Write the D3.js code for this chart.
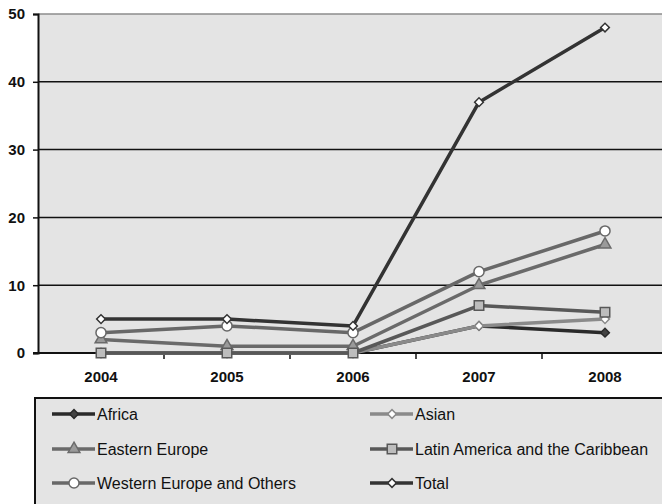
<!DOCTYPE html>
<html>
<head>
<meta charset="utf-8">
<script src="https://cdn.jsdelivr.net/npm/d3@7"></script>
<style>
  body { margin: 0; background: #fff; }
  text { font-family: "Liberation Sans", Arial, sans-serif; }
</style>
</head>
<body>
<svg width="662" height="504"></svg>
<script>
// data
let years = ["2004", "2005", "2006", "2007", "2008"];
let africa = [0, 0, 0, 4, 3];
let asian = [0, 0, 0, 4, 5];
let easternEurope = [2, 1, 1, 10, 16];
let latinAmerica = [0, 0, 0, 7, 6];
let westernEurope = [3, 4, 3, 12, 18];
let total = [5, 5, 4, 37, 48];
let yTicks = [0, 10, 20, 30, 40, 50];

let series = [
  {name: "Africa", values: africa, stroke: "#2a2a2a", shape: "diamond", fill: "#444"},
  {name: "Asian", values: asian, stroke: "#8a8a8a", shape: "diamond", fill: "#fff"},
  {name: "Eastern Europe", values: easternEurope, stroke: "#6a6a6a", shape: "triangle", fill: "#9a9a9a"},
  {name: "Latin America and the Caribbean", values: latinAmerica, stroke: "#585858", shape: "square", fill: "#bdbdbd"},
  {name: "Western Europe and Others", values: westernEurope, stroke: "#686868", shape: "circle", fill: "#fff"},
  {name: "Total", values: total, stroke: "#333", shape: "diamond", fill: "#fff"}
];

let margin = {top: 14, left: 38};
let svg = d3.select("svg");
let plotBottom = 353;

let x = d3.scaleBand().domain(years).range([margin.left, margin.left + 630]);
let y = d3.scaleLinear().domain([0, 50]).range([plotBottom, margin.top]);

// plot background
svg.append("rect")
  .attr("x", margin.left).attr("y", margin.top)
  .attr("width", 640).attr("height", plotBottom - margin.top)
  .attr("fill", "#e4e4e4");
svg.append("line")
  .attr("x1", margin.left).attr("x2", 662)
  .attr("y1", margin.top).attr("y2", margin.top)
  .attr("stroke", "#8c8c8c").attr("stroke-width", 1.5);

// gridlines
svg.append("g").selectAll("line")
  .data(yTicks.filter(d => d > 0 && d < 50))
  .enter().append("line")
  .attr("x1", margin.left).attr("x2", 662)
  .attr("y1", d => y(d)).attr("y2", d => y(d))
  .attr("stroke", "#111").attr("stroke-width", 1.5);

// y axis
let yAxis = svg.append("g")
  .attr("transform", "translate(" + margin.left + ",0)")
  .call(d3.axisLeft(y).tickValues(yTicks).tickSize(5).tickPadding(8));
yAxis.select(".domain").attr("stroke", "#111").attr("stroke-width", 2);
yAxis.selectAll(".tick line").attr("stroke", "#111").attr("stroke-width", 1.5);
yAxis.selectAll("text")
  .style("font-size", "15px").style("font-weight", "bold").attr("fill", "#111");

// x axis
let xAxis = svg.append("g")
  .attr("transform", "translate(0," + plotBottom + ")")
  .call(d3.axisBottom(x).tickSize(0).tickPadding(18));
xAxis.select(".domain").remove();
xAxis.selectAll("text")
  .style("font-size", "15px").style("font-weight", "bold").attr("fill", "#111");
svg.append("line")
  .attr("x1", margin.left - 5).attr("x2", 662)
  .attr("y1", plotBottom).attr("y2", plotBottom)
  .attr("stroke", "#111").attr("stroke-width", 2);
svg.append("g").selectAll("line")
  .data(years.slice(1))
  .enter().append("line")
  .attr("x1", d => x(d)).attr("x2", d => x(d))
  .attr("y1", plotBottom).attr("y2", plotBottom + 6)
  .attr("stroke", "#111").attr("stroke-width", 1.5);

let symbols = {
  diamond: d3.symbol().type(d3.symbolSquare).size(38),
  square: d3.symbol().type(d3.symbolSquare).size(90),
  triangle: d3.symbol().type(d3.symbolTriangle).size(60),
  circle: d3.symbol().type(d3.symbolCircle).size(80)
};
function drawMarker(g, s, cx, cy) {
  g.append("path")
    .attr("d", symbols[s.shape]())
    .attr("transform", "translate(" + cx + "," + cy + ")" + (s.shape === "diamond" ? " rotate(45)" : ""))
    .attr("fill", s.fill)
    .attr("stroke", s.stroke)
    .attr("stroke-width", 1.5);
}

let line = d3.line()
  .x((d, i) => x(years[i]) + x.bandwidth() / 2)
  .y(d => y(d));

// series in legend order, later ones on top
series.forEach(s => {
  let g = svg.append("g");
  g.append("path")
    .attr("d", line(s.values))
    .attr("fill", "none")
    .attr("stroke", s.stroke)
    .attr("stroke-width", 3.5)
    .attr("stroke-linejoin", "round");
  s.values.forEach((v, i) => drawMarker(g, s, x(years[i]) + x.bandwidth() / 2, y(v)));
});

// legend
svg.append("rect")
  .attr("x", 35).attr("y", 398)
  .attr("width", 640).attr("height", 120)
  .attr("fill", "#e4e4e4")
  .attr("stroke", "#111").attr("stroke-width", 2);

let legendCols = [52, 370];
let legendRows = [414, 449, 483];
series.forEach((s, i) => {
  let lx = legendCols[i % 2];
  let ly = legendRows[Math.floor(i / 2)];
  let g = svg.append("g");
  g.append("line")
    .attr("x1", lx).attr("x2", lx + 43)
    .attr("y1", ly).attr("y2", ly)
    .attr("stroke", s.stroke).attr("stroke-width", 3.5);
  drawMarker(g, s, lx + 22, ly);
  g.append("text")
    .attr("x", lx + 45).attr("y", ly)
    .attr("dy", "0.35em")
    .style("font-size", "16px")
    .attr("fill", "#111")
    .text(s.name);
});
</script>
</body>
</html>
